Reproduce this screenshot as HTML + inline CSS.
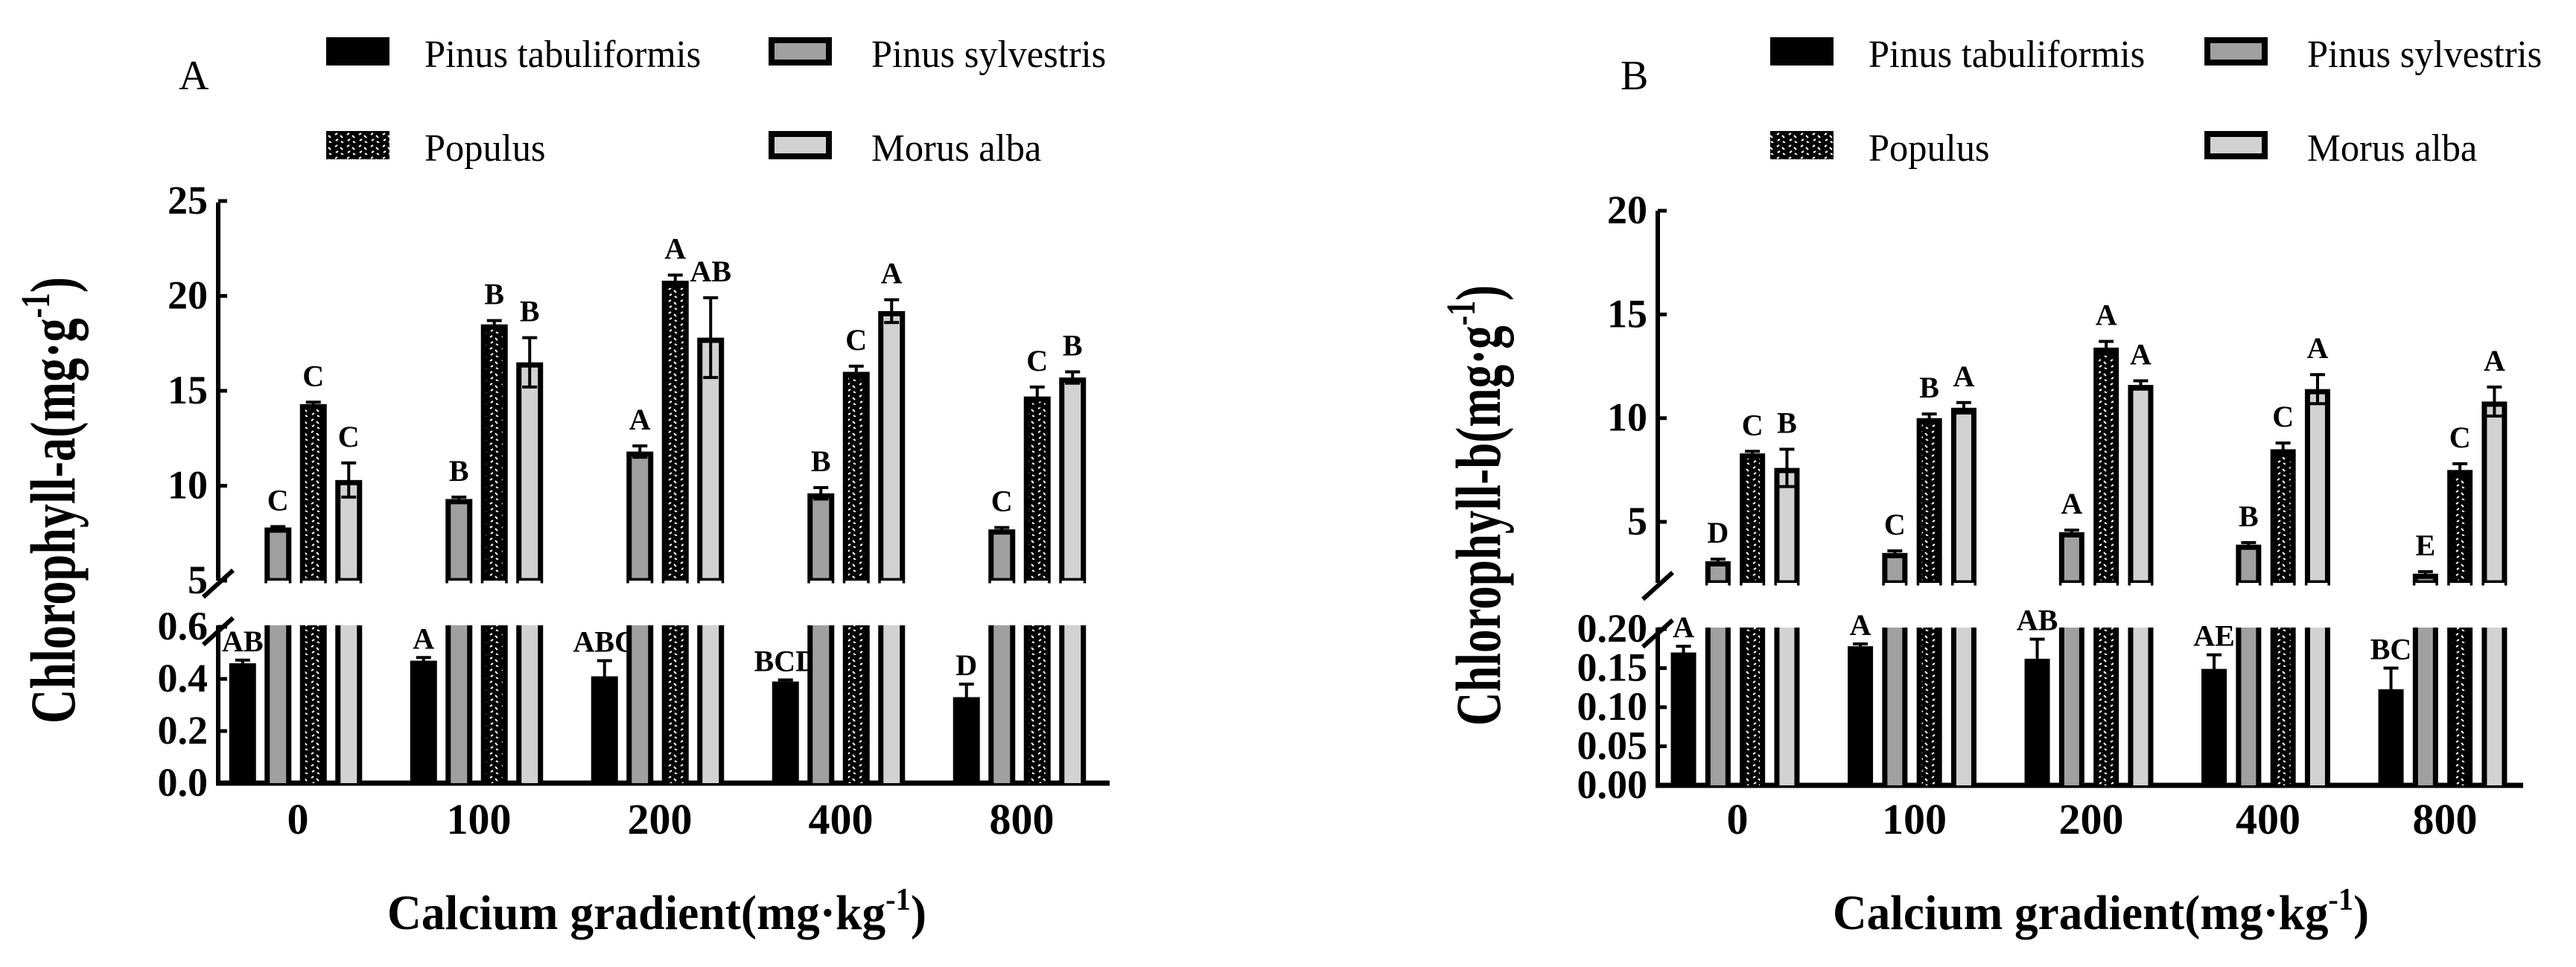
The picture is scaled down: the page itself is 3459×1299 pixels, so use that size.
<!DOCTYPE html>
<html><head><meta charset="utf-8"><style>
html,body{margin:0;padding:0;background:#fff;}
svg{display:block;font-family:"Liberation Serif",serif;}
</style></head><body>
<svg id="chart" xmlns="http://www.w3.org/2000/svg" width="3459" height="1299" viewBox="0 0 3459 1299">
<defs>
<pattern id="pop" patternUnits="userSpaceOnUse" width="16" height="16">
<rect width="16" height="16" fill="#000"/>
<path d="M2 5 L5 3 M9 6 L12 9 M3 13 L6 11 M10 14 L13 16" stroke="#fff" stroke-width="2" fill="none"/>
</pattern>
</defs>
<g id="root"></g>
</svg>
<script>
const categories = ["0","100","200","400","800"];
const seriesNames = ["Pinus tabuliformis","Pinus sylvestris","Populus","Morus alba"];
// Panel A values
const aTab = [0.46,0.47,0.41,0.39,0.33];
const aTabErr = [0.012,0.012,0.06,0.006,0.05];
const aTabLet = ["AB","A","ABC","BCD","D"];
const aSyl = [7.8,9.3,11.8,9.6,7.7];
const aSylErr = [0.05,0.1,0.3,0.3,0.1];
const aSylLet = ["C","B","A","B","C"];
const aPop = [14.3,18.5,20.8,16.0,14.7];
const aPopErr = [0.1,0.2,0.3,0.3,0.5];
const aPopLet = ["C","B","A","C","C"];
const aMor = [10.3,16.5,17.8,19.2,15.7];
const aMorErr = [0.9,1.3,2.1,0.6,0.3];
const aMorLet = ["C","B","AB","A","B"];
const aUpperTicks = [5,10,15,20,25];
const aLowerTicks = ["0.0","0.2","0.4","0.6"];
// Panel B values
const bTab = [0.170,0.178,0.162,0.149,0.123];
const bTabErr = [0.008,0.003,0.025,0.018,0.027];
const bTabLet = ["A","A","AB","AE","BC"];
const bSyl = [3.1,3.5,4.5,3.9,2.5];
const bSylErr = [0.1,0.1,0.1,0.1,0.1];
const bSylLet = ["D","C","A","B","E"];
const bPop = [8.3,10.0,13.4,8.5,7.5];
const bPopErr = [0.1,0.2,0.3,0.3,0.3];
const bPopLet = ["C","B","A","C","C"];
const bMor = [7.6,10.5,11.6,11.4,10.8];
const bMorErr = [0.9,0.25,0.2,0.7,0.7];
const bMorLet = ["B","A","A","A","A"];
const bUpperTicks = [5,10,15,20];
const bLowerTicks = ["0.00","0.05","0.10","0.15","0.20"];

const NS="http://www.w3.org/2000/svg";
const root=document.getElementById('root');
function mk(tag,attrs,parent){const e=document.createElementNS(NS,tag);for(const k in attrs)e.setAttribute(k,attrs[k]);(parent||root).appendChild(e);return e;}
function txt(x,y,s,size,weight,anchor,parent){const t=mk('text',{x:x,y:y,'font-size':size,'font-weight':weight||'normal','text-anchor':anchor||'start',fill:'#000'},parent);t.textContent=s;return t;}
const fills=['#000','#a0a0a0','url(#pop)','#d2d2d2'];

function panel(P){
  const g=mk('g',{});
  
  
  const yU=v=>P.uBot-(v-P.uMin)*P.uScale;
  const yL=v=>P.base-v*P.lScale;
  const gx=i=>P.g0+i*P.gStep;
  const offs=[-1.5,-0.5,0.5,1.5].map(k=>k*P.bStep);
  const ax=mk('line',{x1:P.ax,y1:P.uTopY,x2:P.ax,y2:P.uBot,stroke:'#000','stroke-width':6},g);
  
  
  const ax2=mk('line',{x1:P.ax,y1:P.lTop,x2:P.ax,y2:P.base+3,stroke:'#000','stroke-width':6},g);
  
  
  const xa=mk('line',{x1:P.ax-3,y1:P.base,x2:P.xEnd,y2:P.base,stroke:'#000','stroke-width':7},g);
  
  
  [P.uBot+6,P.lTop+10].forEach(y=>{const b=mk('line',{x1:P.ax-20,y1:y+16,x2:P.ax+20,y2:y-20,stroke:'#000','stroke-width':6},g);
    
    });
  P.uTicks.forEach(v=>{const y=yU(v);
    mk('line',{x1:P.ax,y1:y,x2:P.ax+12,y2:y,stroke:'#000','stroke-width':5},g);
    const t=txt(P.ax-14,y+17,String(v),54,'bold','end',g);
    
    });
  P.lTicks.forEach(s=>{const y=yL(parseFloat(s));
    mk('line',{x1:P.ax,y1:y,x2:P.ax+12,y2:y,stroke:'#000','stroke-width':5},g);
    const t=txt(P.ax-14,y+17,s,54,'bold','end',g);
    
    });
  categories.forEach((c,i)=>{
    const cx=gx(i);
    const xl=txt(cx+3,P.tickY,c,58,'bold','middle',g);
    
    
    {const x=cx+offs[0]-P.bw/2,v=P.tab[i],y=yL(v);
      const r=mk('rect',{x:x,y:y,width:P.bw,height:P.base-y,fill:'#000'},g);
      
      
      const ye=yL(v+P.tabErr[i]);
      mk('line',{x1:cx+offs[0],y1:y,x2:cx+offs[0],y2:ye,stroke:'#000','stroke-width':4},g);
      mk('line',{x1:cx+offs[0]-10,y1:ye,x2:cx+offs[0]+10,y2:ye,stroke:'#000','stroke-width':4},g);
      const l=txt(cx+offs[0],ye-12,P.tabLet[i],40,'bold','middle',g);
      
      }
    [[P.syl,P.sylErr,P.sylLet,1],[P.pop,P.popErr,P.popLet,2],[P.mor,P.morErr,P.morLet,3]].forEach(([vals,errs,lets,k])=>{
      const bx=cx+offs[k],x=bx-P.bw/2,v=vals[i],y=yU(v);
      const r=mk('rect',{x:x+3.5,y:y+3.5,width:P.bw-7,height:P.uBot-y-3.5,fill:fills[k],stroke:'#000','stroke-width':7},g);
      
      
      mk('rect',{x:x+3.5,y:P.uBot,width:P.bw-7,height:6,fill:'#fff'},g);
      const r2=mk('rect',{x:x+3.5,y:P.lTop,width:P.bw-7,height:P.base-P.lTop,fill:fills[k]},g);
      
      
      mk('line',{x1:x+3.5,y1:P.lTop,x2:x+3.5,y2:P.base,stroke:'#000','stroke-width':7},g);
      mk('line',{x1:x+P.bw-3.5,y1:P.lTop,x2:x+P.bw-3.5,y2:P.base,stroke:'#000','stroke-width':7},g);
      const ye=yU(v+errs[i]),yd=yU(v-errs[i]);
      mk('line',{x1:bx,y1:yd,x2:bx,y2:ye,stroke:'#000','stroke-width':4},g);
      mk('line',{x1:bx-10,y1:ye,x2:bx+10,y2:ye,stroke:'#000','stroke-width':4},g);
      mk('line',{x1:bx-10,y1:yd,x2:bx+10,y2:yd,stroke:'#000','stroke-width':4},g);
      const l=txt(bx,ye-22,lets[i],40,'bold','middle',g);
      
      
    });
  });
  const pl=txt(P.letterX,120,P.letter,56,'normal','start',g);
  
  
  const lg=mk('g',{},g);
  
  
  const cols=[P.legX1,P.legX2],rows=[50,176];
  const order=[[0,0,0],[1,1,0],[2,0,1],[3,1,1]];
  order.forEach(([k,c,r])=>{
    const x=cols[c],y=rows[r];
    const e=mk('g',{},lg);
    
    
    if(k===0||k===2) mk('rect',{x:x,y:y,width:85,height:38,fill:fills[k]},e);
    else mk('rect',{x:x+4,y:y+4,width:77,height:30,fill:fills[k],stroke:'#000','stroke-width':8},e);
    const t=txt(x+(c?138:132),y+40,seriesNames[k],52,'normal','start',e);
    t.setAttribute('transform',`translate(${x+(c?138:132)},0) scale(0.97,1) translate(${-(x+(c?138:132))},0)`);
  });
  const xt=mk('text',{x:P.xtX,y:1248,'font-size':66,'font-weight':'bold',textLength:P.xtW,lengthAdjust:'spacingAndGlyphs'},g);
  
  
  xt.innerHTML='Calcium gradient(mg·kg<tspan dy="-26" font-size="42">-1</tspan><tspan dy="26">)</tspan>';
  const yt=mk('text',{transform:`translate(${P.ytX},${P.ytY}) scale(1.3,1) rotate(-90)`,'font-size':66,'font-weight':'bold','text-anchor':'middle',textLength:P.ytL,lengthAdjust:'spacingAndGlyphs'},g);
  
  
  yt.innerHTML=P.ytText+'(mg·g<tspan dy="-26" font-size="42">-1</tspan><tspan dy="26">)</tspan>';
}

panel({name:'panel-a-chlorophyll-a',letter:'A',letterX:240,ax:293,uTopY:272,uBot:780,uMin:5,uScale:25.5,uTicks:aUpperTicks,
  lTop:840,base:1052,lScale:350,lTicks:aLowerTicks,xEnd:1490,g0:397,gStep:243,bStep:47.5,bw:36,tickY:1120,
  tab:aTab,tabErr:aTabErr,tabLet:aTabLet,syl:aSyl,sylErr:aSylErr,sylLet:aSylLet,pop:aPop,popErr:aPopErr,popLet:aPopLet,mor:aMor,morErr:aMorErr,morLet:aMorLet,
  legX1:438,legX2:1032,xtX:520,xtW:724,ytX:100,ytY:672,ytL:600,ytText:'Chlorophyll-a'});
panel({name:'panel-b-chlorophyll-b',letter:'B',letterX:2176,ax:2226,uTopY:283,uBot:783,uMin:5-(783-701)/27.86,uScale:27.86,uTicks:bUpperTicks,
  lTop:843,base:1055,lScale:1050,lTicks:bLowerTicks,xEnd:3388,g0:2330,gStep:237.5,bStep:46.3,bw:34,tickY:1120,
  tab:bTab,tabErr:bTabErr,tabLet:bTabLet,syl:bSyl,sylErr:bSylErr,sylLet:bSylLet,pop:bPop,popErr:bPopErr,popLet:bPopLet,mor:bMor,morErr:bMorErr,morLet:bMorLet,
  legX1:2377,legX2:2960,xtX:2461,xtW:720,ytX:2014,ytY:679,ytL:592,ytText:'Chlorophyll-b'});
</script>
</body></html>
